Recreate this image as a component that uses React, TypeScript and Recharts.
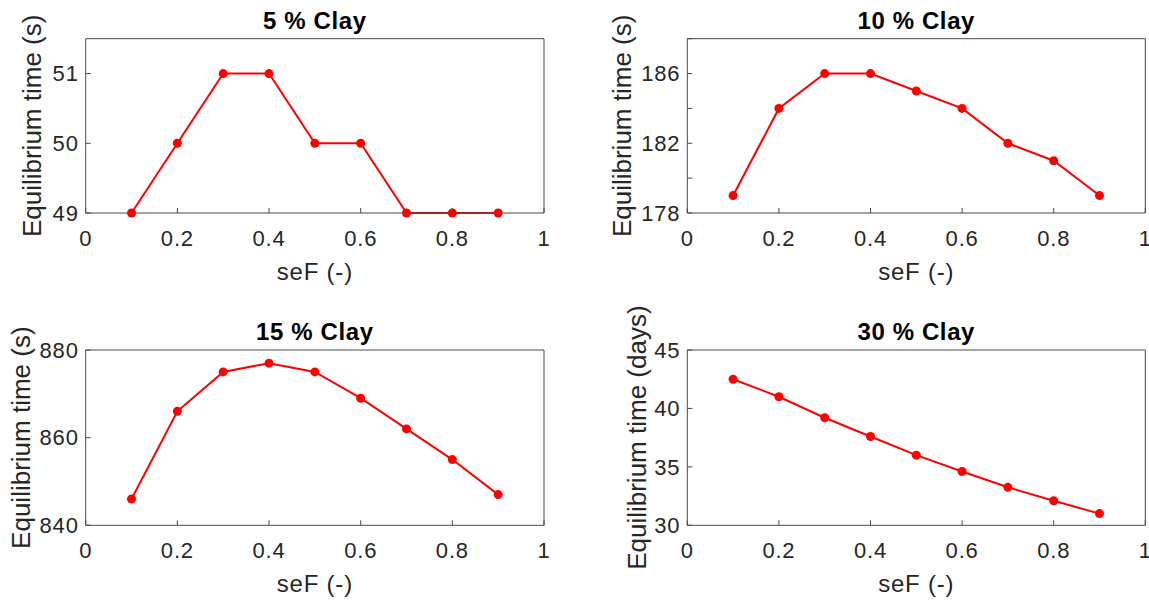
import React from 'react';
import { LineChart, Line, XAxis, YAxis, Label } from 'recharts';

// Saturation fraction on the x axis, shared by all four panels
const seF = [0.1, 0.2, 0.3, 0.4, 0.5, 0.6, 0.7, 0.8, 0.9];
const xTicks = [0, 0.2, 0.4, 0.6, 0.8, 1];

// Equilibrium time per clay content
const clay5 = [49, 50, 51, 51, 50, 50, 49, 49, 49];
const clay10 = [179, 184, 186, 186, 185, 184, 182, 181, 179];
const clay15 = [846, 866, 875, 877, 875, 869, 862, 855, 847];
const clay30 = [42.5, 41.0, 39.2, 37.6, 36.0, 34.6, 33.25, 32.1, 31.0];

// y ticks, and the subset of them that carry a label
const ticks5 = [49, 50, 51];
const ticks10 = [178, 180, 182, 184, 186, 188];
const labelled10 = [178, 182, 186];
const ticks15 = [840, 860, 880];
const ticks30 = [30, 35, 40, 45];

const FONT = "'Liberation Sans', Arial, Helvetica, sans-serif";
const TEXT = '#262626';
const AXIS = '#4a4a4a';
const RED = '#ff0000';
const W = 574;
const H = 300;

interface Box { l: number; r: number; t: number; b: number }
interface Caption { at: [number, number]; caption: string }

// Recharts hands its own x/y to label content, so positions travel in `at`
function Title({ at, caption }: Caption) {
  return (
    <text x={at[0]} y={at[1]} textAnchor="middle" fill="#000" fontFamily={FONT}
      fontSize={24} fontWeight="bold" letterSpacing={0.6}>
      {caption}
    </text>
  );
}

function XTitle({ at, caption }: Caption) {
  return (
    <text x={at[0]} y={at[1]} textAnchor="middle" fill={TEXT} fontFamily={FONT}
      fontSize={24} letterSpacing={0.8}>
      {caption}
    </text>
  );
}

function YTitle({ at, caption }: Caption) {
  return (
    <text x={at[0]} y={at[1]} textAnchor="middle" dominantBaseline="central" fill={TEXT}
      fontFamily={FONT} fontSize={26} transform={`rotate(-90, ${at[0]}, ${at[1]})`}>
      {caption}
    </text>
  );
}

interface PanelProps {
  left: number;
  top: number;
  box: Box;
  title: string;
  yLabel: string;
  yGap: number;
  values: number[];
  yDomain: [number, number];
  yTicks: number[];
  yLabelled?: number[];
}

function Panel({ left, top, box, title, yLabel, yGap, values, yDomain, yTicks, yLabelled }: PanelProps) {
  const rows = seF.map((x, i) => ({ x, y: values[i] }));
  const cx = (box.l + box.r) / 2;
  const cy = (box.t + box.b) / 2;
  const tickFont = { fill: TEXT, fontSize: 22, fontFamily: FONT, letterSpacing: 0.8 };
  return (
    <div style={{ position: 'absolute', left, top, width: W, height: H }}>
      <LineChart
        width={W}
        height={H}
        data={rows}
        margin={{ top: box.t - 1, right: W - box.r - 1, bottom: 0, left: 0 }}
      >
        <XAxis
          xAxisId="b"
          dataKey="x"
          type="number"
          domain={[0, 1]}
          ticks={xTicks}
          interval={0}
          height={H - box.b}
          stroke={AXIS}
          tickSize={-5}
          tickMargin={22}
          tick={tickFont}
          tickFormatter={(v: number) => String(v)}
        >
          <Label content={<XTitle at={[cx, box.b + 67]} caption="seF (-)" />} />
        </XAxis>
        <XAxis
          xAxisId="t"
          orientation="top"
          type="number"
          domain={[0, 1]}
          ticks={xTicks}
          interval={0}
          allowDataOverflow
          height={1}
          stroke={AXIS}
          tickSize={-5}
          tick={false}
        >
          <Label content={<Title at={[cx, box.t - 10]} caption={title} />} />
        </XAxis>
        <YAxis
          yAxisId="l"
          type="number"
          domain={yDomain}
          ticks={yTicks}
          interval={0}
          width={box.l}
          stroke={AXIS}
          tickSize={-5}
          tickMargin={12}
          tick={tickFont}
          tickFormatter={(v: number) => (!yLabelled || yLabelled.includes(v) ? String(v) : '')}
        >
          <Label content={<YTitle at={[box.l - yGap, cy]} caption={yLabel} />} />
        </YAxis>
        <YAxis
          yAxisId="r"
          orientation="right"
          type="number"
          domain={yDomain}
          ticks={yTicks}
          interval={0}
          allowDataOverflow
          width={1}
          stroke={AXIS}
          tickSize={-5}
          tick={false}
        />
        <Line
          xAxisId="b"
          yAxisId="l"
          dataKey="y"
          type="linear"
          stroke={RED}
          strokeWidth={2}
          dot={{ r: 4.5, fill: RED, stroke: RED, strokeWidth: 0 }}
          activeDot={false}
          isAnimationActive={false}
        />
      </LineChart>
    </div>
  );
}

export default function App() {
  const leftBox = { l: 85.7, r: 544, t: 38.7, b: 213 };
  const rightBox = { l: 112.3, r: 570.3, t: 38.7, b: 213 };
  const leftBoxLow = { l: 85.7, r: 544, t: 50, b: 225.3 };
  const rightBoxLow = { l: 112.3, r: 570.3, t: 50, b: 225.3 };
  return (
    <div style={{ position: 'absolute', left: 0, top: 0, width: 1149, height: 600, background: '#fff' }}>
      <Panel left={0} top={0} box={leftBox} title="5 % Clay" yLabel="Equilibrium time (s)"
        yGap={54} values={clay5} yDomain={[49, 51.5]} yTicks={ticks5} />
      <Panel left={575} top={0} box={rightBox} title="10 % Clay" yLabel="Equilibrium time (s)"
        yGap={65} values={clay10} yDomain={[178, 188]} yTicks={ticks10} yLabelled={labelled10} />
      <Panel left={0} top={300} box={leftBoxLow} title="15 % Clay" yLabel="Equilibrium time (s)"
        yGap={65} values={clay15} yDomain={[840, 880]} yTicks={ticks15} />
      <Panel left={575} top={300} box={rightBoxLow} title="30 % Clay" yLabel="Equilibrium time (days)"
        yGap={50} values={clay30} yDomain={[30, 45]} yTicks={ticks30} />
    </div>
  );
}
